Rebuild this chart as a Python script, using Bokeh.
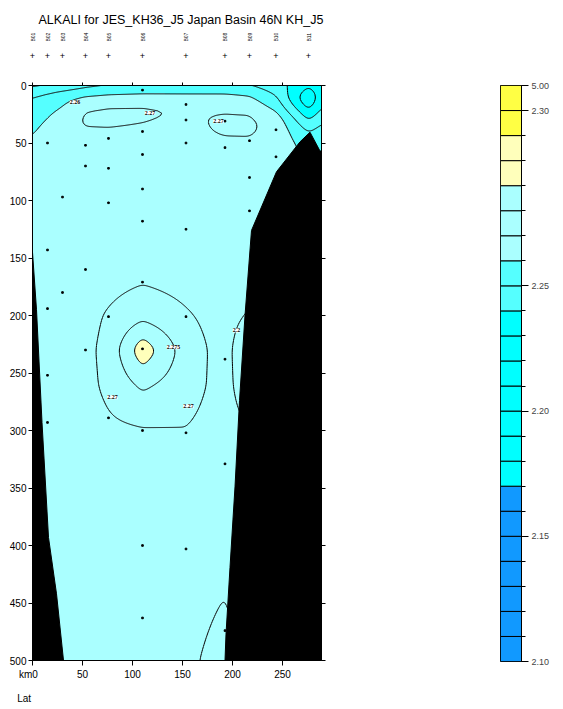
import numpy as np
from bokeh.plotting import figure
from bokeh.models import Range1d, LinearAxis, FixedTicker, ColumnDataSource, LabelSet
from bokeh.layouts import row
from bokeh.embed import file_html
from bokeh.resources import INLINE

# ---------------- data ----------------
title_text = "ALKALI for JES_KH36_J5 Japan Basin 46N KH_J5"

station_km = [0, 15, 30, 53, 76, 110, 153.5, 192.5, 217, 243.5, 276]
station_names = ["B01", "B02", "B03", "B04", "B05", "B06", "B07", "B08", "B09", "B10", "B11"]

profile_depth = [0, 5, 10, 20, 30, 40, 50, 75, 100, 150, 200, 230, 260, 300, 400, 500]
alk_km000 = [2.236, 2.246, 2.250, 2.254, 2.256, 2.259, 2.262, 2.266, 2.267, 2.267, 2.267, 2.267, 2.267, 2.267, 2.267, 2.267]
alk_km015 = [2.238, 2.249, 2.253, 2.257, 2.2605, 2.264, 2.266, 2.267, 2.267, 2.267, 2.2675, 2.2675, 2.2675, 2.267, 2.267, 2.267]
alk_km030 = [2.240, 2.252, 2.257, 2.2605, 2.266, 2.2675, 2.268, 2.2675, 2.267, 2.267, 2.268, 2.268, 2.268, 2.2675, 2.267, 2.267]
alk_km053 = [2.245, 2.256, 2.2605, 2.2698, 2.2713, 2.269, 2.268, 2.2675, 2.267, 2.2675, 2.2685, 2.2688, 2.2685, 2.268, 2.2675, 2.2675]
alk_km076 = [2.248, 2.258, 2.262, 2.2714, 2.2714, 2.2692, 2.268, 2.2675, 2.267, 2.267, 2.2705, 2.2715, 2.2712, 2.269, 2.268, 2.2675]
alk_km110 = [2.249, 2.259, 2.263, 2.2716, 2.2704, 2.2688, 2.268, 2.2675, 2.267, 2.267, 2.2735, 2.2835, 2.276, 2.2695, 2.268, 2.268]
alk_km153 = [2.249, 2.259, 2.263, 2.2696, 2.2686, 2.268, 2.268, 2.2675, 2.267, 2.267, 2.2705, 2.2725, 2.2722, 2.2698, 2.268, 2.2692]
alk_km192 = [2.249, 2.259, 2.263, 2.2690, 2.2714, 2.2710, 2.2685, 2.2675, 2.267, 2.267, 2.268, 2.268, 2.268, 2.268, 2.2688, 2.2715]
alk_km217 = [2.248, 2.257, 2.261, 2.2680, 2.2716, 2.2712, 2.2685, 2.2675, 2.267, 2.267, 2.2705, 2.275, 2.274, 2.2695, 2.268, 2.268]
alk_km243 = [2.244, 2.247, 2.251, 2.258, 2.2665, 2.2672, 2.266, 2.267, 2.267, 2.267, 2.267, 2.267, 2.267, 2.267, 2.267, 2.267]
alk_km276 = [2.232, 2.228, 2.218, 2.229, 2.240, 2.250, 2.256, 2.260, 2.262, 2.262, 2.262, 2.262, 2.262, 2.262, 2.262, 2.262]
alk_km289 = [2.236, 2.236, 2.236, 2.240, 2.248, 2.254, 2.258, 2.262, 2.262, 2.262, 2.262, 2.262, 2.262, 2.262, 2.262, 2.262]
grid_km = station_km + [289]
grid_profiles = [alk_km000, alk_km015, alk_km030, alk_km053, alk_km076, alk_km110,
                 alk_km153, alk_km192, alk_km217, alk_km243, alk_km276, alk_km289]

# bottle sample positions
sample_km = [15, 15, 15, 15, 15,
             30, 30,
             53, 53, 53, 53,
             76, 76, 76, 76, 76,
             110, 110, 110, 110, 110, 110, 110, 110, 110, 110,
             153.5, 153.5, 153.5, 153.5, 153.5, 153.5, 153.5,
             192.5, 192.5, 192.5, 192.5, 192.5,
             217, 217, 217,
             243.5, 243.5]
sample_depth = [50, 143, 194, 252, 293,
                97, 180,
                52, 70, 160, 230,
                46, 72, 102, 201, 289,
                4, 40, 60, 90, 118, 171, 229, 300, 400, 463,
                16.5, 30, 50, 125, 201, 302, 403,
                31, 54, 238, 329, 474,
                48, 80, 109,
                38.5, 62]

# bathymetry (bottom)
left_bottom_km = [0, 4, 9.5, 16, 24, 31, 0]
left_bottom_depth = [145, 195, 293, 393, 442, 500, 500]
right_bottom_km = [277.5, 267.5, 244, 219, 212.5, 207, 202.5, 197.5, 193.5, 192.5, 289, 289, 287.5]
right_bottom_depth = [40.6, 49, 75, 126, 200, 274, 349, 419, 477, 500, 500, 57, 57]

# contour levels / colour table
fill_levels = [2.10, 2.11, 2.12, 2.13, 2.14, 2.15, 2.16, 2.17, 2.18, 2.19, 2.20, 2.21, 2.22,
               2.23, 2.24, 2.25, 2.26, 2.27, 2.275, 2.28, 2.285, 2.29, 2.30, 5.00]
fill_colors = (["#1199FF"] * 7 + ["#00FFFF"] * 7 + ["#55FFFF"] * 2 + ["#AAFFFF"] * 3
               + ["#FFFFBB"] * 2 + ["#FFFF44"] * 2)
line_levels = [2.22, 2.23, 2.24, 2.25, 2.26, 2.27, 2.275, 2.28]

label_km = [42.5, 117.5, 186, 141, 80, 156, 204]
label_depth = [14.5, 24, 31, 227.5, 271, 279, 213]
label_text = ["2.26", "2.27", "2.27", "2.275", "2.27", "2.27", "2.2"]

x_ticks = [0, 50, 100, 150, 200, 250]
depth_ticks = [0, 50, 100, 150, 200, 250, 300, 350, 400, 450, 500]
cbar_tick_idx = [0, 5, 10, 15, 22, 23]
cbar_tick_text = ["2.10", "2.15", "2.20", "2.25", "2.30", "5.00"]

NB = "\u00a0"

# ---------------- gridding ----------------
xs = np.arange(0, 289.5, 1.0)
ys = np.arange(0, 501, 2.0)
P = np.array([np.interp(ys, profile_depth, pr) for pr in grid_profiles])
Z = np.array([np.interp(xs, grid_km, P[:, j]) for j in range(len(ys))])


def smooth(A, sx, sy):
    def kern(s):
        r = int(3 * s) + 1
        t = np.arange(-r, r + 1)
        k = np.exp(-0.5 * (t / s) ** 2)
        return k / k.sum(), r
    kx, rx = kern(sx)
    Ap = np.pad(A, ((0, 0), (rx, rx)), mode="edge")
    A1 = np.array([np.convolve(v, kx, mode="valid") for v in Ap])
    ky, ry = kern(sy)
    Ap = np.pad(A1, ((ry, ry), (0, 0)), mode="edge")
    A2 = np.array([np.convolve(v, ky, mode="valid") for v in Ap.T]).T
    return A2


Z = smooth(Z, 3.0, 2.0)

FONT = "Liberation Sans"

# ---------------- main section ----------------
p = figure(frame_width=289, frame_height=575, x_range=Range1d(0, 289), y_range=Range1d(500, 0),
           min_border_left=32, min_border_right=137, min_border_top=85, min_border_bottom=46,
           output_backend="svg", toolbar_location=None, outline_line_color="black",
           background_fill_color="white", border_fill_color="white")
p.grid.visible = False

p.contour(x=xs, y=ys, z=Z, levels=fill_levels, fill_color=fill_colors, line_color=None)
p.contour(x=xs, y=ys, z=Z, levels=line_levels, line_color="black", line_width=1)
p.scatter(sample_km, sample_depth, size=1.6, marker="square", color="black")
p.patch(left_bottom_km, left_bottom_depth, fill_color="black", line_color="black")
p.patch(right_bottom_km, right_bottom_depth, fill_color="black", line_color="black")

for ax in (p.xaxis[0], p.yaxis[0]):
    ax.major_tick_in = 0
    ax.major_tick_out = 4
    ax.minor_tick_out = 0
    ax.minor_tick_in = 0
    ax.major_label_text_font = FONT
    ax.major_label_text_font_size = "10px"
    ax.major_label_text_color = "black"
    ax.axis_line_color = "black"
p.xaxis.ticker = FixedTicker(ticks=x_ticks)
p.xaxis.major_label_overrides = {0: "km0" + NB * 3}
p.yaxis.ticker = FixedTicker(ticks=depth_ticks)
p.xaxis.major_tick_out = 5
p.xaxis.major_label_standoff = 3
p.yaxis.major_label_standoff = 2

# second bottom axis carrying the "Lat" caption
lat_ax = LinearAxis(ticker=FixedTicker(ticks=[0]), major_label_overrides={0: "Lat" + NB * 6},
                    axis_line_color=None, major_tick_line_color=None, minor_tick_line_color=None,
                    major_label_standoff=4, major_label_text_font=FONT,
                    major_label_text_font_size="10px", major_label_text_color="black")
p.add_layout(lat_ax, "below")

right_ax = LinearAxis(ticker=FixedTicker(ticks=depth_ticks),
                      major_label_overrides={t: "" for t in depth_ticks},
                      major_tick_in=0, major_tick_out=4, minor_tick_out=0, major_label_standoff=0)
top_ax = LinearAxis(ticker=FixedTicker(ticks=x_ticks),
                    major_label_overrides={t: "" for t in x_ticks},
                    major_tick_in=0, major_tick_out=3, minor_tick_out=0, major_label_standoff=0)
plus_ax = LinearAxis(ticker=FixedTicker(ticks=station_km),
                     major_label_overrides={k: "+" for k in station_km},
                     axis_line_color=None, major_tick_line_color=None, minor_tick_line_color=None,
                     major_label_standoff=18, major_label_text_font=FONT,
                     major_label_text_font_size="9px", major_label_text_color="black")
names_ax = LinearAxis(ticker=FixedTicker(ticks=station_km),
                      major_label_overrides={k: n for k, n in zip(station_km, station_names)},
                      major_label_orientation="vertical",
                      axis_line_color=None, major_tick_line_color=None, minor_tick_line_color=None,
                      major_label_standoff=2, major_label_text_font=FONT,
                      major_label_text_font_size="5px", major_label_text_color="black")
p.add_layout(right_ax, "right")
p.add_layout(top_ax, "above")
p.add_layout(plus_ax, "above")
p.add_layout(names_ax, "above")

p.title.text = title_text
p.title.text_font = FONT
p.title.text_font_size = "12.5px"
p.title.text_font_style = "normal"
p.title.text_color = "black"
p.title.align = "left"
p.title.offset = 6
p.title.standoff = 6

lab_src = ColumnDataSource(dict(x=label_km, y=label_depth, t=label_text))
p.add_layout(LabelSet(x="x", y="y", text="t", source=lab_src, text_font=FONT,
                      text_font_size="6px", text_font_style="bold", text_align="center",
                      text_baseline="middle", text_color="black", background_fill_color="white"))

# ---------------- colour bar ----------------
cb = figure(frame_width=21, frame_height=576, x_range=Range1d(0, 1), y_range=Range1d(0, 23),
            min_border_left=42, min_border_right=34, min_border_top=84, min_border_bottom=46,
            output_backend="svg", toolbar_location=None, outline_line_color="black",
            x_axis_type=None, y_axis_type=None, border_fill_color="white")
cb.grid.visible = False
idx = list(range(len(fill_colors)))
cb.quad(left=[0] * len(idx), right=[1] * len(idx), bottom=idx, top=[i + 1 for i in idx],
        fill_color=fill_colors, line_color="black", line_width=1)
cb_ax = LinearAxis(ticker=FixedTicker(ticks=cbar_tick_idx, minor_ticks=list(range(24))),
                   major_label_overrides={k: v for k, v in zip(cbar_tick_idx, cbar_tick_text)},
                   major_tick_in=0, major_tick_out=7, minor_tick_in=0, minor_tick_out=4,
                   major_label_standoff=3, major_label_text_font=FONT,
                   major_label_text_font_size="9px", axis_line_color="black")
cb.add_layout(cb_ax, "right")

layout = row(p, cb)
open("out.html", "w").write(file_html(layout, INLINE))
